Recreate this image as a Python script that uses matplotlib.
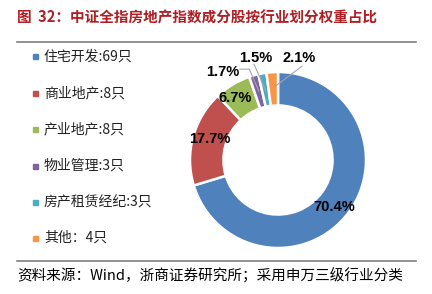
import matplotlib
matplotlib.use("Agg")
import matplotlib.pyplot as plt
import numpy as np

plt.rcParams['font.family'] = ['Noto Sans CJK SC', 'DejaVu Sans']

labels = ['住宅开发:69只', '商业地产:8只', '产业地产:8只', '物业管理:3只', '房产租赁经纪:3只', '其他：4只']
weights = [70.4, 17.7, 6.7, 1.7, 1.5, 2.1]
colors = ['#4F81BD', '#C0504D', '#9BBB59', '#8064A2', '#4BACC6', '#F79646']

W, H = 432, 294
fig = plt.figure(figsize=(W / 100, H / 100), dpi=100)

# title and rules
fig.text(17 / W, 1 - 17 / H, '图  32：中证全指房地产指数成分股按行业划分权重占比',
         color='#B01E23', fontsize=10.5, fontweight='bold', va='center', ha='left')
fig.add_artist(plt.Line2D([17 / W, 416 / W], [1 - 42 / H] * 2, color='#7F7F7F', lw=1.2))
fig.add_artist(plt.Line2D([17 / W, 416 / W], [1 - 261 / H] * 2, color='#7F7F7F', lw=1.2))
fig.text(17 / W, 1 - 276 / H,
         '资料来源：Wind，浙商证券研究所；采用申万三级行业分类',
         fontsize=10.5, va='center', ha='left')

# legend
leg_y = [57, 93, 129, 166, 202, 238]
for lab, c, y in zip(labels, colors, leg_y):
    fig.patches.append(plt.Rectangle((33 / W, 1 - (y + 2.5) / H), 5 / W, 5 / H,
                                     transform=fig.transFigure, color=c))
    fig.text(44 / W, 1 - y / H, lab, fontsize=10, va='center', ha='left', color='#222222')

# donut
cx, cy, R = 278, 160, 92
half = 110
ax = fig.add_axes([(cx - half) / W, (H - cy - half) / H, 2 * half / W, 2 * half / H])
lim = half / R
ax.set_xlim(-lim, lim)
ax.set_ylim(-lim, lim)
ax.axis('off')
wedges, _ = ax.pie(weights, colors=colors, startangle=90, counterclock=False, radius=1,
                   wedgeprops=dict(width=0.38, edgecolor='white', linewidth=1.8))


def px(x, y):
    return ((x - cx) / R, (cy - y) / R)


pfont = dict(fontsize=10.5, fontweight='bold', family=['Liberation Sans', 'DejaVu Sans'])
# inside labels
inside = [(0, px(337, 209)), (1, px(207, 138)), (2, px(233, 95))]
for i, (x, y) in inside:
    ax.text(x, y, f'{weights[i]}%', ha='center', va='center', **pfont)

# outside labels with leader lines
outside = [(3, px(220, 68), px(238, 65), [px(248, 65), px(258, 88)]),
           (4, px(255, 53), px(253, 60), [px(265, 87)]),
           (5, px(300, 53), px(303, 62), [px(275, 83)])]
for i, tpos, start, pts in outside:
    ax.text(tpos[0], tpos[1], f'{weights[i]}%', ha='center', va='center', **pfont)
    xs = [start[0]] + [p[0] for p in pts]
    ys = [start[1]] + [p[1] for p in pts]
    ax.plot(xs, ys, color='#A6A6A6', lw=0.8)

fig.savefig('out.png', dpi=100)
